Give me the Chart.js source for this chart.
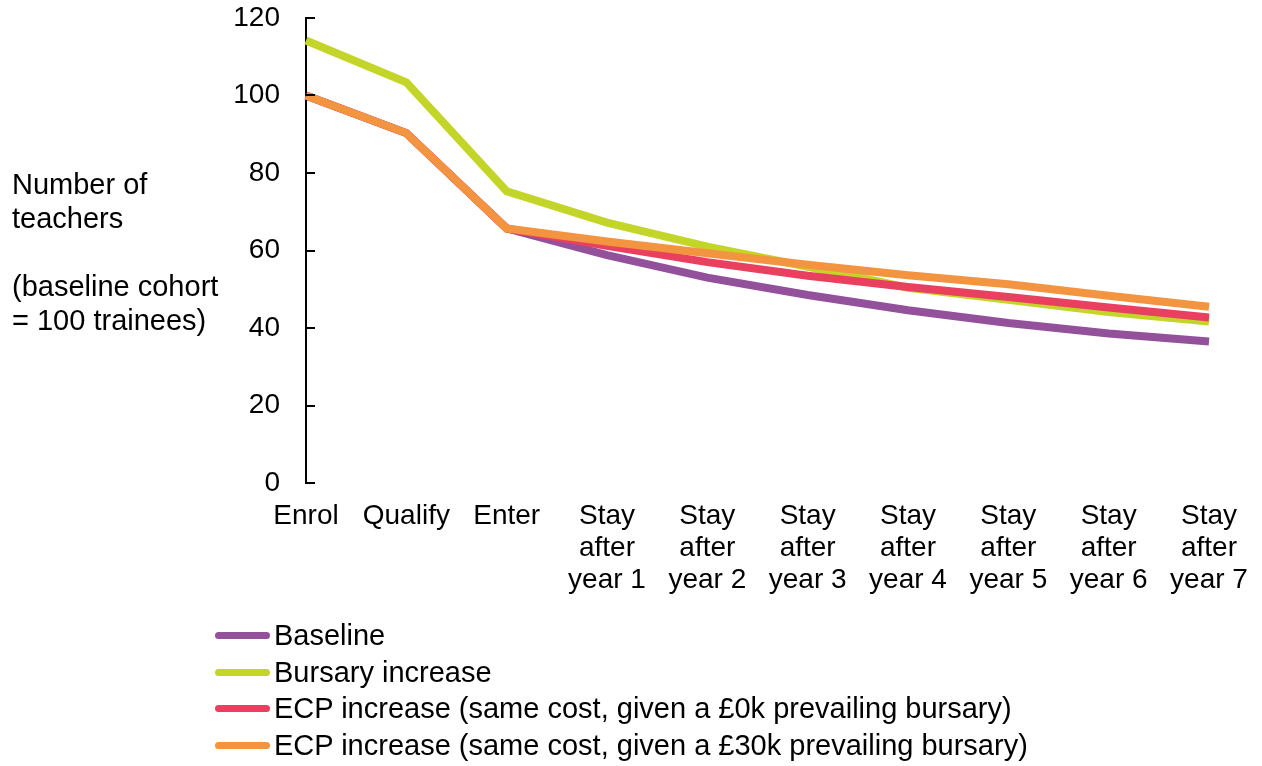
<!DOCTYPE html>
<html>
<head>
<meta charset="utf-8">
<script src="https://cdn.jsdelivr.net/npm/chart.js@4.4.1/dist/chart.umd.min.js"></script>
<style>
  html, body { margin: 0; padding: 0; background: #fff; }
  body { width: 1262px; height: 766px; position: relative; overflow: hidden;
         font-family: Arial, "Liberation Sans", sans-serif; color: #000; }
  #wrap { position: absolute; left: 0; top: 0; width: 1262px; height: 766px; }
  #yTitle { position: absolute; left: 12px; top: 167px; font-size: 29px; line-height: 34px; white-space: pre; }
  #legend { position: absolute; left: 215px; top: 617px; font-size: 29px; }
  .item { height: 36.7px; display: flex; align-items: center; }
  .swatch { width: 55px; height: 7px; border-radius: 4px; margin-right: 4px; }
</style>
</head>
<body>
<div id="wrap"><canvas id="teacherChart" width="1262" height="766"></canvas></div>
<div id="yTitle">Number of
teachers

(baseline cohort
= 100 trainees)</div>
<div id="legend"></div>
<script>
// Stages of the cohort
const stages = [
  'Enrol', 'Qualify', 'Enter',
  ['Stay', 'after', 'year 1'], ['Stay', 'after', 'year 2'], ['Stay', 'after', 'year 3'],
  ['Stay', 'after', 'year 4'], ['Stay', 'after', 'year 5'], ['Stay', 'after', 'year 6'],
  ['Stay', 'after', 'year 7']
];

// Values
const baseline = [100, 90.3, 65.7, 58.8, 53.0, 48.5, 44.6, 41.3, 38.6, 36.5];
const bursaryIncrease = [114.2, 103.4, 75.3, 67.2, 61.0, 55.8, 50.4, 47.3, 44.1, 41.7];
const ecp0k = [100, 90.3, 65.7, 61.2, 57.0, 53.5, 50.6, 48.0, 45.3, 42.7];
const ecp30k = [100, 90.3, 65.7, 62.3, 59.3, 56.3, 53.6, 51.3, 48.3, 45.5];

const yTicks = [0, 20, 40, 60, 80, 100, 120];

const seriesNames = [
  'Baseline',
  'Bursary increase',
  'ECP increase (same cost, given a £0k prevailing bursary)',
  'ECP increase (same cost, given a £30k prevailing bursary)'
];
const seriesColors = ['#93519c', '#c4d52a', '#e8405e', '#f39440'];
const seriesData = [baseline, bursaryIncrease, ecp0k, ecp30k];

const font = { family: 'Arial, "Liberation Sans", sans-serif', size: 28, lineHeight: 1.15 };

// dataset 0 is drawn on top in Chart.js, so put the last series first
const datasets = seriesNames.map((name, i) => ({
  label: name,
  data: seriesData[i],
  borderColor: seriesColors[i],
  backgroundColor: seriesColors[i],
  borderWidth: 8,
  pointRadius: 0,
  tension: 0,
  fill: false
})).reverse();

// small tick marks on the inside of the y axis
const innerTicks = {
  id: 'innerTicks',
  afterDraw(chart) {
    const y = chart.scales.y;
    const ctx = chart.ctx;
    ctx.save();
    ctx.strokeStyle = '#000';
    ctx.lineWidth = 2;
    yTicks.forEach(v => {
      const py = Math.round(y.getPixelForValue(v));
      ctx.beginPath();
      ctx.moveTo(y.right, py);
      ctx.lineTo(y.right + 9, py);
      ctx.stroke();
    });
    ctx.restore();
  }
};

const ctx = document.getElementById('teacherChart').getContext('2d');
const chart = new Chart(ctx, {
  type: 'line',
  data: { labels: stages, datasets: datasets },
  options: {
    responsive: false,
    animation: false,
    layout: { padding: { left: 0, right: 53, top: 18, bottom: 0 } },
    plugins: {
      legend: { display: false },
      tooltip: { enabled: false }
    },
    scales: {
      x: {
        grid: { display: false, drawTicks: false },
        border: { display: false },
        ticks: {
          font: font, color: '#000', padding: 17,
          maxRotation: 0, autoSkip: false
        },
        afterFit: s => { s.height = 283; s.paddingLeft = 0; s.paddingRight = 0; }
      },
      y: {
        min: 0, max: 120,
        afterBuildTicks: s => { s.ticks = yTicks.map(v => ({ value: v })); },
        grid: { display: false, drawTicks: false },
        border: { display: true, color: '#000', width: 2 },
        ticks: { font: font, color: '#000', padding: 26 },
        afterFit: s => { s.width = 306; s.paddingTop = 0; s.paddingBottom = 0; }
      }
    }
  },
  plugins: [innerTicks]
});

// legend built from the chart's datasets, in the original order
const legend = document.getElementById('legend');
chart.data.datasets.slice().reverse().forEach(ds => {
  const row = document.createElement('div');
  row.className = 'item';
  row.innerHTML = '<span class="swatch" style="background:' + ds.borderColor + '"></span>' + ds.label;
  legend.appendChild(row);
});
</script>
</body>
</html>
